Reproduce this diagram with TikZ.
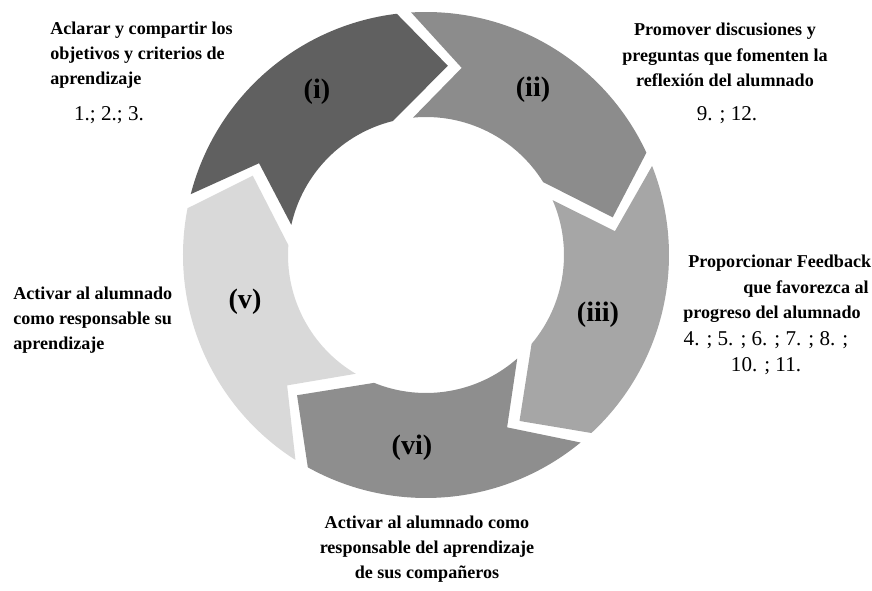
\documentclass[tikz,border=0pt]{standalone}
\usepackage{fontspec}
\setmainfont{Liberation Serif}
\definecolor{segi}{HTML}{606060}
\definecolor{segii}{HTML}{8C8C8C}
\definecolor{segiii}{HTML}{A6A6A6}
\definecolor{segvi}{HTML}{8E8E8E}
\definecolor{segv}{HTML}{D9D9D9}
% one arrow segment of the ring: #1 notch angle, #2 tip angle, #3 colour
\newcommand{\ringseg}[3]{
	\fill[#3] (#1+14.3:243) arc[start angle=#1+14.3, end angle=#2+13.5, radius=243] -- (#2:190.5) -- (#2+20.5:138) arc[start angle=#2+20.5, end angle=#1+16.2, radius=138] -- (#1:190.5) -- cycle;
}

\begin{document}
\begin{tikzpicture}[x=0.02cm, y=0.02cm,
	aim/.style={font=\bfseries\fontsize{10.3}{14.4}\selectfont, inner sep=0pt},
	nums/.style={font=\fontsize{12}{14.4}\selectfont, inner sep=0pt},
	tag/.style={font=\bfseries\fontsize{16}{18}\selectfont}]
	\useasboundingbox (-426,-336) rectangle (446,255);
	
	%the ring of arrows
	\ringseg{151.2}{83.4}{segi}
	\ringseg{79.2}{11.4}{segii}
	\ringseg{7.2}{-60.6}{segiii}
	\ringseg{-64.8}{-132.6}{segvi}
	\ringseg{-136.8}{-204.6}{segv}
	
	%segment labels
	\node[tag] (ti) at (-109,163) {(i)};
	\node[tag] (tii) at (107,165) {(ii)};
	\node[tag] (tiii) at (172,-60) {(iii)};
	\node[tag] (tvi) at (-14,-193) {(vi)};
	\node[tag] (tv) at (-181,-47) {(v)};
	
	%texts round the ring
	%(i)
	\node[aim, align=left, anchor=west] (aimi) at (-376,200) {Aclarar y compartir los \\ objetivos y criterios de \\ aprendizaje};
	\node[nums] (numi) at (-317,140) {1.; 2.; 3.};
	%(ii)
	\node[aim, align=center] (aimii) at (299,200) {Promover discusiones y \\ preguntas que fomenten la \\ reflexión del alumnado};
	\node[nums] (numii) at (301,140) {9. ; 12.};
	%(iii)
	\node[aim, anchor=west] (aimiiia) at (262,-8) {Proporcionar Feedback};
	\node[aim, anchor=east] (aimiiib) at (443,-34) {que favorezca al};
	\node[aim, anchor=west] (aimiiic) at (257,-59) {progreso del alumnado};
	\node[nums, align=center] (numiii) at (340,-98) {4. ; 5. ; 6. ; 7. ; 8. ; \\ 10. ; 11.};
	%(v)
	\node[aim, align=left, anchor=west] (aimv) at (-413,-65) {Activar al alumnado \\ como responsable su \\ aprendizaje};
	%(vi)
	\node[aim, align=center] (aimvi) at (1,-294) {Activar al alumnado como \\ responsable del aprendizaje \\ de sus compañeros};
\end{tikzpicture}
\end{document}
